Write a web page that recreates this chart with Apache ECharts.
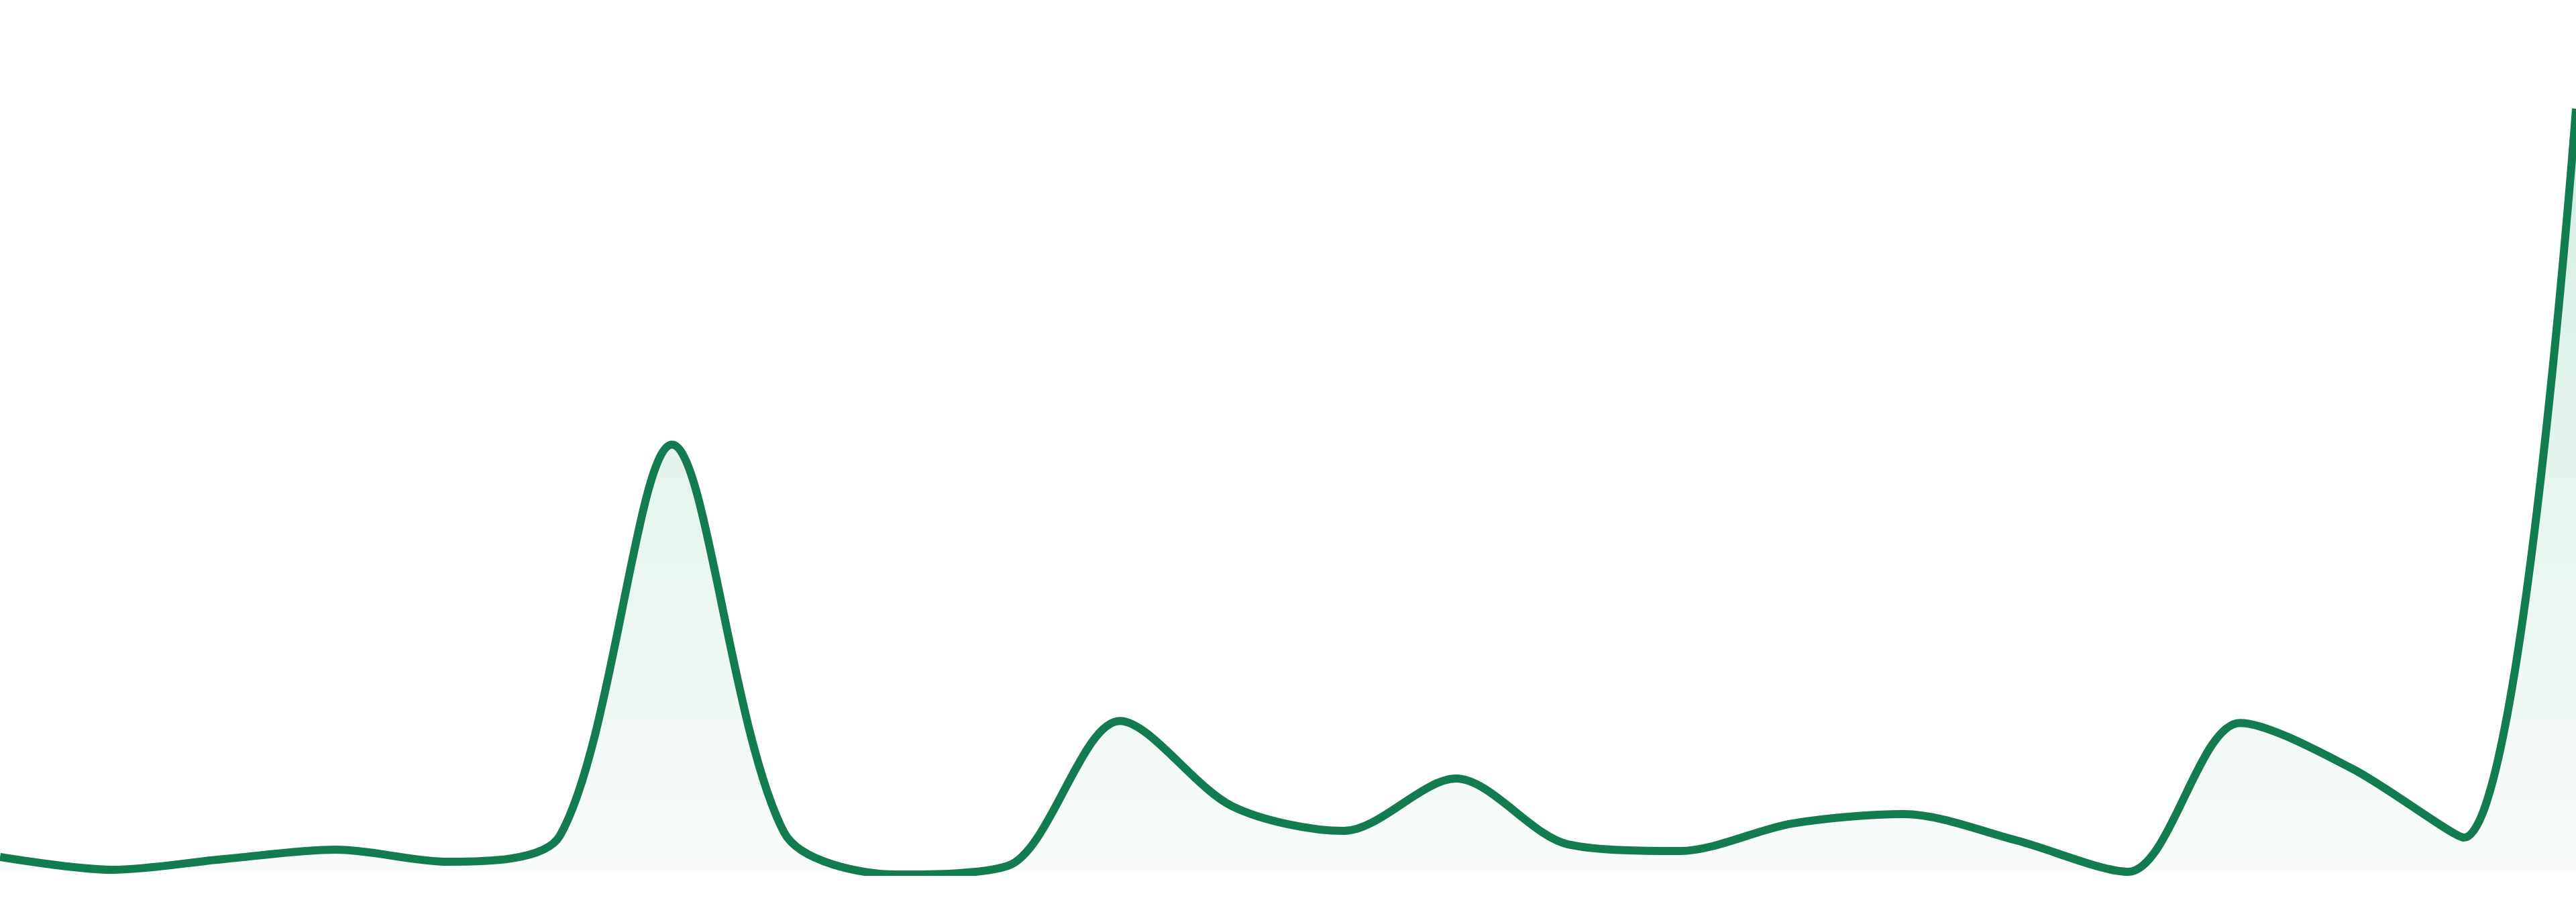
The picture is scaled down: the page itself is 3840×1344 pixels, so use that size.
<!DOCTYPE html>
<html>
<head>
<meta charset="utf-8">
<style>
html,body{margin:0;padding:0;background:#ffffff;}
#chart{width:3840px;height:1344px;}
</style>
<script src="https://cdn.jsdelivr.net/npm/echarts@6/dist/echarts.min.js"></script>
</head>
<body>
<div id="chart"></div>
<script>
const hours = ['00:00','01:00','02:00','03:00','04:00','05:00','06:00','07:00','08:00','09:00','10:00','11:00',
               '12:00','13:00','14:00','15:00','16:00','17:00','18:00','19:00','20:00','21:00','22:00','23:00'];
const values = [2.2, 0.3, 1.9, 3.3, 1.5, 5.4, 63.7, 5.9, -0.4, 0.9, 22.5, 9.8,
                6.1, 13.9, 4.1, 3.1, 7.2, 8.6, 4.7, 0.0, 22.2, 15.4, 5.1, 113.8];

const chart = echarts.init(document.getElementById('chart'));
chart.setOption({
  animation: false,
  backgroundColor: '#ffffff',
  grid: { left: 0, right: 0, top: 0, bottom: 45 },
  xAxis: { type: 'category', data: hours, boundaryGap: false, show: false },
  yAxis: { type: 'value', min: 0, max: 130, show: false },
  series: [{
    type: 'line',
    data: values,
    smooth: 0.3,
    showSymbol: false,
    lineStyle: { color: '#127b50', width: 12 },
    areaStyle: {
      color: new echarts.graphic.LinearGradient(0, 0, 0, 1, [
        { offset: 0, color: '#c0e6d5' },
        { offset: 1, color: '#f6faf8' }
      ])
    }
  }]
});
</script>
</body>
</html>
